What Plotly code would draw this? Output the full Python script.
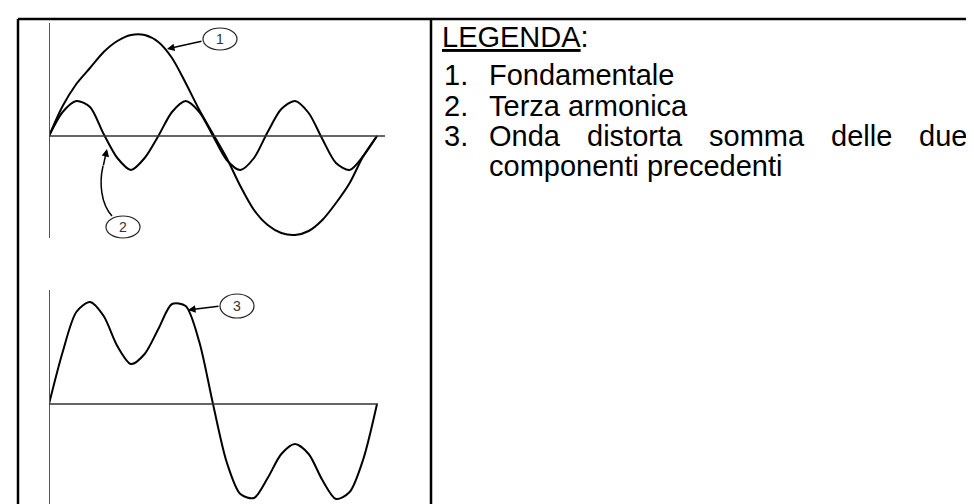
import plotly.graph_objects as go

W, H = 974, 504

# angle of the fundamental, degrees
deg = [0, 15, 30, 45, 60, 75, 90, 105, 120, 135, 150, 165, 180,
       195, 210, 225, 240, 255, 270, 285, 300, 315, 330, 345, 360]

# values (1 unit ~ 1 px above the baseline)
fondamentale = [0, 30, 52, 68, 84, 95, 101, 101, 94, 78, 53, 26, 2,
                -22, -50, -74, -89, -97, -99, -95, -84, -67, -47, -20, 0]
terza = [0, 24, 35, 29, 2, -22, -34, -22, 0, 24, 35, 24, 0,
         -24, -34, -22, 4, 27, 35, 23, -3, -27, -34, -20, 0]
distorta = [0, 52, 92, 102, 88, 58, 40, 50, 75, 100, 98, 62, 0,
            -58, -90, -94, -74, -50, -40, -50, -76, -95, -88, -55, 0]

legenda_titolo = "<u>LEGENDA</u>:"
legenda_num = ["1.", "2.", "3."]
legenda_voci = ["Fondamentale", "Terza armonica"]
riga3 = ["Onda", "distorta", "somma", "delle", "due"]
riga4 = "componenti precedenti"

FONT = "Liberation Sans, Arial, sans-serif"
FS = 29


def px(x):
    return x / W


def py(y):
    return 1 - y / H


def deg_of(x):
    return (x - 41) * 360 / 328


line = dict(color="black", width=2, shape="spline", smoothing=0.8)

fig = go.Figure()
fig.add_trace(go.Scatter(x=deg, y=fondamentale, mode="lines", line=line,
                         xaxis="x", yaxis="y", hoverinfo="skip"))
fig.add_trace(go.Scatter(x=deg, y=terza, mode="lines", line=line,
                         xaxis="x", yaxis="y", hoverinfo="skip"))
fig.add_trace(go.Scatter(x=deg, y=distorta, mode="lines", line=line,
                         xaxis="x2", yaxis="y2", hoverinfo="skip"))

ax = dict(showgrid=False, zeroline=False, showticklabels=False,
          ticks="", showline=False, fixedrange=True)

shapes = []
# table borders
for x0, y0, x1, y1 in [(10, 11, 974, 11), (10, 11, 10, 504), (423, 11, 423, 504)]:
    shapes.append(dict(type="line", xref="paper", yref="paper",
                       x0=px(x0), y0=py(y0), x1=px(x1), y1=py(y1),
                       line=dict(color="black", width=2.5)))
# axes of both small graphs
for xa, ya in [("x", "y"), ("x2", "y2")]:
    shapes.append(dict(type="line", xref=xa, yref=ya + " domain",
                       x0=0, x1=0, y0=0, y1=1,
                       line=dict(color="#555555", width=2)))
    shapes.append(dict(type="line", xref=xa + " domain", yref=ya,
                       x0=0, x1=1, y0=0, y1=0,
                       line=dict(color="#333333", width=1.5)))
# label ellipses
labels = [("1", 212, 31, 17, 11), ("2", 115, 219, 17, 11), ("3", 229, 298, 17, 12)]
for _, cx, cy, rx, ry in labels:
    shapes.append(dict(type="circle", xref="paper", yref="paper",
                       x0=px(cx - rx), x1=px(cx + rx), y0=py(cy + ry), y1=py(cy - ry),
                       line=dict(color="#222222", width=1.2)))
# curved pointer of label 2
pts = [(104, 208), (93, 196), (91, 175), (95, 158)]
path = "M {} {} C {} {} {} {} {} {}".format(*[v for p in pts for v in (px(p[0]), py(p[1]))])
shapes.append(dict(type="path", xref="paper", yref="paper", path=path,
                   line=dict(color="black", width=1.5)))

ann = []
for num, cx, cy, _, _ in labels:
    ann.append(dict(text=num, xref="paper", yref="paper", x=px(cx), y=py(cy),
                    xanchor="center", yanchor="middle", showarrow=False,
                    font=dict(family=FONT, size=14, color="#333")))
# arrows: tip on the curve, tail at the ellipse
for tipx, tipy, tailx, taily in [(159, 41, 195, 33), (99, 141, 95, 159), (180, 302, 212, 298)]:
    ann.append(dict(text="", xref="paper", yref="paper", x=px(tipx), y=py(tipy),
                    ax=tailx - tipx, ay=taily - tipy, showarrow=True,
                    arrowhead=2, arrowsize=1, arrowwidth=1.5, arrowcolor="black"))


def txt(s, x, y):
    ann.append(dict(text=s, xref="paper", yref="paper", x=px(x), y=py(y),
                    xanchor="left", yanchor="middle", showarrow=False,
                    font=dict(family=FONT, size=FS, color="black")))


# text rows (vertical middles)
rows_y = [67, 98, 128]
txt(legenda_titolo, 432, 29)
for i, n in enumerate(legenda_num):
    txt(n, 434, rows_y[i])
for i, v in enumerate(legenda_voci):
    txt(v, 479, rows_y[i])
# justified line: words spread up to the right edge
for w, x in zip(riga3, [479, 577, 699, 821, 909]):
    txt(w, x, rows_y[2])
txt(riga4, 479, 158)

fig.update_layout(
    width=W, height=H, margin=dict(l=0, r=0, t=0, b=0),
    paper_bgcolor="white", plot_bgcolor="rgba(0,0,0,0)", showlegend=False,
    xaxis=dict(ax, domain=[px(41), px(377)], range=[0, deg_of(377)], anchor="y"),
    yaxis=dict(ax, domain=[py(230), py(15)], range=[-102, 113], anchor="x"),
    xaxis2=dict(ax, domain=[px(41), px(370)], range=[0, deg_of(370)], anchor="y2"),
    yaxis2=dict(ax, domain=[py(504), py(282)], range=[-108, 114], anchor="x2"),
    shapes=shapes, annotations=ann,
)

fig.write_html("out.html")
